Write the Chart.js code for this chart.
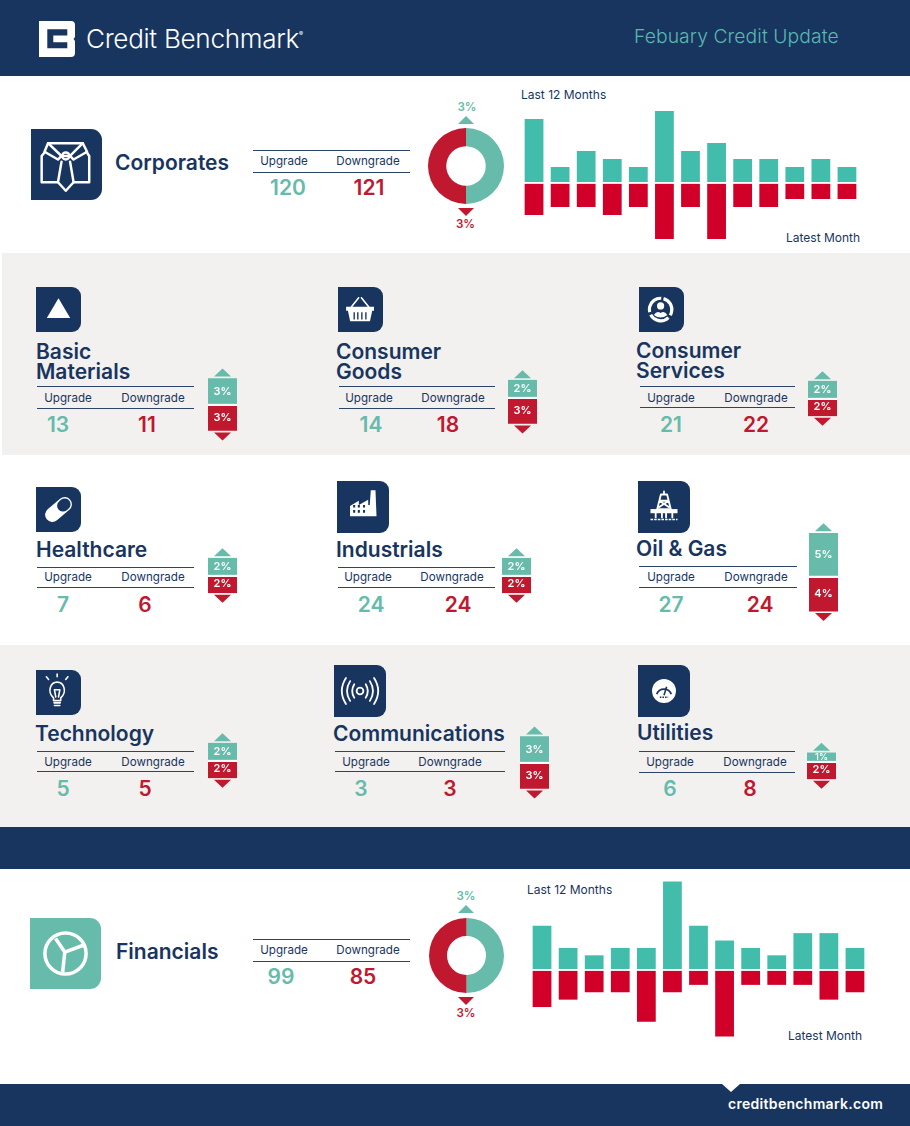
<!DOCTYPE html>
<html>
<head>
<meta charset="utf-8">
<title>Credit Benchmark - Febuary Credit Update</title>
<script src="https://cdn.jsdelivr.net/npm/chart.js@4"></script>
<style>
  html, body { margin: 0; padding: 0; background: #fff; }
  #page { position: relative; width: 910px; height: 1126px; overflow: hidden; font-family: Inter, sans-serif; color: #18355f; }
  #page > * { position: absolute; }
  .t { white-space: nowrap; line-height: 1; }
  .title { font-size: 21px; font-weight: 600; line-height: 20px; white-space: pre; }
  .lbl { font-size: 11.6px; font-weight: 400; transform: translate(-50%, -50%); }
  .num { font-size: 21px; font-weight: 600; transform: translate(-50%, -50%); }
  .rule { height: 1px; background: #2b4468; }
  .note { font-size: 12px; }
  .icon { background: #18355f; border-radius: 0 9px 9px 0; }
  .icon svg { display: block; width: 100%; height: 100%; }
  canvas { display: block; }
  sup { font-size: 6px; line-height: 0; vertical-align: 12px; font-weight: 400; }
</style>
</head>
<body>
<div id="page"></div>
<script>
// months are only numbered in the source, oldest first
const months = ["1", "2", "3", "4", "5", "6", "7", "8", "9", "10", "11", "12", "13"];

const corporatesUp = [8, 2, 4, 3, 2, 9, 4, 5, 3, 3, 2, 3, 2];
const corporatesDown = [4, 3, 3, 4, 3, 7, 3, 7, 3, 3, 2, 2, 2];
const financialsUp = [6, 3, 2, 3, 3, 12, 6, 4, 3, 2, 5, 5, 3];
const financialsDown = [5, 4, 3, 3, 7, 3, 2, 9, 2, 2, 2, 4, 3];

const corporatesShare = [3, 3];
const financialsShare = [3, 3];
const corporatesCounts = [120, 121];
const financialsCounts = [99, 85];

const sectorNames = ["Basic\nMaterials", "Consumer\nGoods", "Consumer\nServices",
  "Healthcare", "Industrials", "Oil & Gas",
  "Technology", "Communications", "Utilities"];
const sectorUpgrades = [13, 14, 21, 7, 24, 27, 5, 3, 6];
const sectorDowngrades = [11, 18, 22, 6, 24, 24, 5, 3, 8];
const sectorUpPct = [3, 2, 2, 2, 2, 5, 2, 3, 1];
const sectorDownPct = [3, 3, 2, 2, 2, 4, 2, 3, 2];

const NAVY = "#18355f", TEAL = "#66bbaa", RED = "#c0182f", BAR_TEAL = "#43bdab", BAR_RED = "#d00029", GRAY = "#f3f1ef";

// where each sector block sits on the page (titleY is the middle of the title block)
const sectorLayout = [
  { icon: [36, 287, 45], titleX: 36, titleY: 361.5, rules: [386, 408], ruleX: [37, 194], lbl: [68, 153], lblY: 399, num: [58, 147], numY: 424, barX: 208, base: 404.3, art: "triangle" },
  { icon: [338, 287, 45], titleX: 336, titleY: 361.5, rules: [386, 408], ruleX: [339, 495], lbl: [369, 453], lblY: 399, num: [371, 448], numY: 424, barX: 508, base: 397, art: "basket" },
  { icon: [639, 287, 45], titleX: 636, titleY: 360.5, rules: [386, 407], ruleX: [640, 795], lbl: [671, 756], lblY: 399, num: [671, 756], numY: 424, barX: 808, base: 398.5, art: "ring" },
  { icon: [36, 487, 45], titleX: 36, titleY: 549.5, rules: [567, 587], ruleX: [37, 194], lbl: [68, 153], lblY: 578, num: [63, 145], numY: 604, barX: 208, base: 575.5, art: "pill" },
  { icon: [337, 481, 52], titleX: 336, titleY: 549.5, rules: [567, 587], ruleX: [338, 495], lbl: [368, 452], lblY: 578, num: [371, 458], numY: 604, barX: 502, base: 575.5, art: "factory" },
  { icon: [638, 481, 52], titleX: 636, titleY: 548.5, rules: [566, 587], ruleX: [639, 797], lbl: [671, 756], lblY: 578, num: [671, 760], numY: 604, barX: 809, base: 576, art: "rig" },
  { icon: [36, 670, 45], titleX: 35, titleY: 733.5, rules: [751, 771], ruleX: [37, 194], lbl: [68, 153], lblY: 763, num: [63, 145], numY: 788, barX: 208, base: 760.5, art: "bulb" },
  { icon: [334, 665, 52], titleX: 333, titleY: 733.5, rules: [751, 771], ruleX: [335, 505], lbl: [366, 450], lblY: 763, num: [361, 450], numY: 788, barX: 520, base: 762.5, art: "waves" },
  { icon: [638, 665, 52], titleX: 637, titleY: 732.5, rules: [751, 772], ruleX: [639, 795], lbl: [670, 755], lblY: 763, num: [670, 750], numY: 788, barX: 807, base: 761.5, art: "gauge" }
];

const W = 'fill="none" stroke="#fff" stroke-width="3.5" stroke-linejoin="round" stroke-linecap="round"';
const iconArt = {
  shirt: `<g ${W} stroke-width="3.2"><path d="M24 20 H73 L79 32 L60 43 L55 38 H43 L38 43 L19 32 Z"/><path d="M24 20 L43 38 M73 20 L55 38"/><circle cx="49" cy="38" r="5"/><path d="M20 32 L15 38 V75 H38 M78 32 L82 38 V75 H60"/><path d="M43 46 L38 75 L49 87 L60 75 L55 46"/></g>`,
  triangle: `<path d="M50 25 L76 69 H24 Z" fill="#fff"/>`,
  basket: `<path d="M18 44 H80 V53 H76 L71 76 H27 L22 53 H18 Z" fill="#fff"/><path d="M36 56 V72 M44 56 V72 M53 56 V72 M62 56 V72" stroke="#18355f" stroke-width="3"/><g ${W} stroke-width="4.5"><path d="M30 44 L46 24 M68 44 L52 24"/></g>`,
  ring: `<circle cx="48" cy="50" r="25" fill="none" stroke="#fff" stroke-width="7" stroke-dasharray="46 6.4" transform="rotate(-75 48 50)"/><circle cx="48" cy="42" r="8" fill="#fff"/><path d="M33 62 Q40 52 48 58 Q56 52 63 62 Q48 74 33 62 Z" fill="#fff"/>`,
  pill: `<g transform="rotate(-40 50 50)"><rect x="16" y="34" width="68" height="32" rx="16" fill="#fff"/><rect x="50" y="37" width="31" height="26" rx="13" fill="#18355f"/></g>`,
  factory: `<path d="M25 68 V48 L42 38 V46 L60 36 V46 H63 L65 18 H74 L76 68 Z" fill="#fff"/><path d="M31 46 h4 v5 h-4z M40 46 h4 v5 h-4z M50 46 h4 v5 h-4z M31 56 h4 v5 h-4z M40 56 h4 v5 h-4z M50 56 h4 v5 h-4z" fill="#18355f"/>`,
  rig: `<g ${W} stroke-width="2.8"><path d="M50 20 V26 M44 26 H56 L63 54 H37 Z M41 38 L59 50 M59 38 L41 50 M42 38 H58"/><path d="M34 62 V70 M66 62 V70 M46 62 V70 M54 62 V70"/></g><path d="M24 54 H76 V62 H24 Z" fill="#fff"/><path d="M24 74 H76" stroke="#fff" stroke-width="2.5" stroke-dasharray="5 2"/>`,
  bulb: `<g ${W} stroke-width="3.4"><path d="M39 62 C24 48 32 27 47 27 C62 27 70 48 55 62 V68 H39 Z"/><path d="M41 44 H53 L50 60 M44 60 L41 44"/><path d="M40 73 H54 M41 79 H53"/><path d="M47 9 V15 M23 15 L28 21 M71 15 L66 21"/></g>`,
  waves: `<g ${W} stroke-width="2.4"><circle cx="50" cy="50" r="6.5"/><path d="M39 37 Q31 50 39 63 M61 37 Q69 50 61 63 M31 31 Q19 50 31 69 M69 31 Q81 50 69 69 M23 25 Q7 50 23 75 M77 25 Q93 50 77 75"/></g>`,
  gauge: `<circle cx="50" cy="50" r="23" fill="#fff"/><g fill="none" stroke="#18355f" stroke-width="3.5"><path d="M36 56 A15 15 0 0 1 64 56"/><path d="M50 58 L55 42" stroke-width="3"/></g><path d="M42 62 H58" stroke="#18355f" stroke-width="3" stroke-dasharray="3 2"/>`,
  pie: `<circle cx="50" cy="50" r="29" fill="none" stroke="#fff" stroke-width="5"/><path d="M49 48 L36 29 M49 48 L76 38 M49 48 L46 76" stroke="#fff" stroke-width="5"/>`
};

const page = document.getElementById("page");

function box(left, top, w, h, bg) {
  const d = document.createElement("div");
  d.style.cssText = `left:${left}px;top:${top}px;width:${w}px;height:${h}px;background:${bg}`;
  page.appendChild(d);
  return d;
}
function text(str, cls, x, y, color) {
  const d = document.createElement("div");
  d.className = "t " + cls;
  d.textContent = str;
  d.style.left = x + "px";
  d.style.top = y + "px";
  if (color) d.style.color = color;
  page.appendChild(d);
  return d;
}
function title(str, x, y) {
  const d = text(str, "title", x, y);
  d.style.transform = "translateY(-50%)";
  return d;
}
function rule(x0, x1, y) {
  const d = document.createElement("div");
  d.className = "rule";
  d.style.cssText = `left:${x0}px;top:${y}px;width:${x1 - x0}px`;
  page.appendChild(d);
}
function icon(left, top, size, art, bg) {
  const d = document.createElement("div");
  d.className = "icon";
  const radius = size > 60 ? "border-radius:0 11px 11px 0;" : "";
  d.style.cssText = `${radius}left:${left}px;top:${top}px;width:${size}px;height:${size}px` + (bg ? `;background:${bg}` : "");
  d.innerHTML = `<svg viewBox="0 0 100 100">${iconArt[art]}</svg>`;
  page.appendChild(d);
}
function canvas(left, top, w, h) {
  const c = document.createElement("canvas");
  c.width = w;
  c.height = h;
  c.style.cssText = `left:${left}px;top:${top}px;width:${w}px;height:${h}px`;
  page.appendChild(c);
  return c;
}
function triangle(cx, y, w, h, up, color) {
  const d = document.createElement("div");
  const pts = up ? `${w / 2},0 ${w},${h} 0,${h}` : `0,0 ${w},0 ${w / 2},${h}`;
  d.style.cssText = `left:${cx - w / 2}px;top:${y}px;width:${w}px;height:${h}px`;
  d.innerHTML = `<svg width="${w}" height="${h}" style="display:block"><polygon points="${pts}" fill="${color}"/></svg>`;
  page.appendChild(d);
}

// bands
box(0, 0, 910, 76, NAVY);
box(2, 253, 908, 202, GRAY);
box(0, 645, 910, 182, GRAY);
box(0, 827, 910, 42, NAVY);
box(0, 1084, 910, 42, NAVY);
triangle(731, 1084, 18, 8, false, "#fff");

// header
const logo = document.createElement("div");
logo.style.cssText = "left:39px;top:21px;width:36px;height:36px";
logo.innerHTML = `<svg viewBox="0 0 36 36" width="36" height="36" style="display:block"><path d="M0 0 H32 Q36 0 36 4 V16 L34.5 18 L36 20 V32 Q36 36 32 36 H0 Z" fill="#fff"/><path d="M8.3 8.3 H28.3 V14.6 H14.3 V21.3 H28.3 V27.3 H8.3 Z" fill="#18355f"/></svg>`;
page.appendChild(logo);
const brand = text("", "", 86, 25, "#fff");
brand.innerHTML = "Credit Benchmark<sup>®</sup>";
brand.style.cssText += ";font-size:26.1px;font-weight:300;letter-spacing:-0.3px;line-height:28px";
text("Febuary Credit Update", "", 634, 25, "#5bb8b0").style.cssText += ";font-size:19.3px;font-weight:300;letter-spacing:0.1px;line-height:22px";

// footer
text("creditbenchmark.com", "", 728, 1097, "#fff").style.cssText += ";font-size:14px;font-weight:600;letter-spacing:0.3px";

function trendChart(cv, up, down, yMin, yMax) {
  return new Chart(cv, {
    type: "bar",
    data: {
      labels: months,
      datasets: [
        { label: "Upgrade", data: up, backgroundColor: BAR_TEAL, stack: "s" },
        { label: "Downgrade", data: down.map(v => -v), backgroundColor: BAR_RED, stack: "s" }
      ]
    },
    options: {
      responsive: false,
      animation: false,
      layout: { padding: 0 },
      barPercentage: 0.72,
      categoryPercentage: 1,
      plugins: { legend: { display: false }, tooltip: { enabled: false } },
      scales: {
        x: { display: false, stacked: true },
        y: {
          stacked: true, min: yMin, max: yMax,
          ticks: { display: false, stepSize: 1 },
          border: { display: false },
          grid: { z: 1, drawTicks: false, lineWidth: 1.4, color: c => c.tick.value === 0 ? "#fff" : "rgba(0,0,0,0)" }
        }
      }
    }
  });
}

function shareDonut(cv, share) {
  return new Chart(cv, {
    type: "doughnut",
    data: { labels: ["Upgrade", "Downgrade"], datasets: [{ data: share, backgroundColor: [TEAL, RED], borderWidth: 0 }] },
    options: {
      responsive: false,
      animation: false,
      cutout: "52%",
      layout: { padding: 0 },
      plugins: { legend: { display: false }, tooltip: { enabled: false } }
    }
  });
}

// arrows and % labels of the small sector bars, placed from the scale
const miniMarks = {
  id: "miniMarks",
  afterDatasetsDraw(chart) {
    const { ctx, scales: { x, y } } = chart;
    const up = chart.data.datasets[0].data[0];
    const down = -chart.data.datasets[1].data[0];
    const cx = x.getPixelForValue(0);
    const top = y.getPixelForValue(up), zero = y.getPixelForValue(0), bot = y.getPixelForValue(-down);
    ctx.save();
    ctx.fillStyle = TEAL;
    ctx.beginPath();
    ctx.moveTo(cx, top - 10); ctx.lineTo(cx + 8.5, top - 2); ctx.lineTo(cx - 8.5, top - 2);
    ctx.fill();
    ctx.fillStyle = RED;
    ctx.beginPath();
    ctx.moveTo(cx, bot + 10); ctx.lineTo(cx + 8.5, bot + 2); ctx.lineTo(cx - 8.5, bot + 2);
    ctx.fill();
    ctx.fillStyle = "#fff";
    ctx.textAlign = "center";
    ctx.textBaseline = "middle";
    ctx.font = (up < 2 ? "600 9px" : "600 11px") + " Inter, sans-serif";
    ctx.fillText(up + "%", cx, (top + zero) / 2);
    ctx.font = (down < 2 ? "600 9px" : "600 11px") + " Inter, sans-serif";
    ctx.fillText(down + "%", cx, (bot + zero) / 2);
    ctx.restore();
  }
};

function miniChart(cv, up, down) {
  return new Chart(cv, {
    type: "bar",
    data: {
      labels: ["Latest"],
      datasets: [
        { label: "Upgrade", data: [up], backgroundColor: TEAL, stack: "s" },
        { label: "Downgrade", data: [-down], backgroundColor: RED, stack: "s" }
      ]
    },
    options: {
      responsive: false,
      animation: false,
      layout: { padding: 0 },
      barPercentage: 1,
      categoryPercentage: 1,
      plugins: { legend: { display: false }, tooltip: { enabled: false } },
      scales: {
        x: { display: false, stacked: true },
        y: {
          stacked: true, min: -7, max: 7,
          ticks: { display: false, stepSize: 1 },
          border: { display: false },
          grid: { z: 1, drawTicks: false, lineWidth: 2, color: c => c.tick.value === 0 ? "#fff" : "rgba(0,0,0,0)" }
        }
      }
    },
    plugins: [miniMarks]
  });
}

function countRow(rules, ruleX, lbl, lblY, num, numY, counts) {
  rule(ruleX[0], ruleX[1], rules[0]);
  rule(ruleX[0], ruleX[1], rules[1]);
  text("Upgrade", "lbl", lbl[0], lblY);
  text("Downgrade", "lbl", lbl[1], lblY);
  text(String(counts[0]), "num", num[0], numY, TEAL);
  text(String(counts[1]), "num", num[1], numY, RED);
}

// Corporates row
icon(31, 129, 71, "shirt");
title("Corporates", 115, 163);
countRow([150, 172], [253, 410], [284, 368], 161.5, [288, 369], 187, corporatesCounts);
shareDonut(canvas(428, 128, 76, 76), corporatesShare);
triangle(465.5, 116, 16, 8, true, TEAL);
triangle(465.5, 208, 16, 8, false, RED);
text(corporatesShare[0] + "%", "lbl", 467, 107.5, TEAL).style.fontWeight = 600;
text(corporatesShare[1] + "%", "lbl", 465.5, 225, RED).style.fontWeight = 600;
text("Last 12 Months", "note", 521, 89);
text("Latest Month", "note", 786, 232);
trendChart(canvas(521, 103, 339, 144), corporatesUp, corporatesDown, -8, 10);

// Financials row
icon(30, 918, 71, "pie", TEAL);
title("Financials", 116, 952);
countRow([939, 961], [253, 410], [284, 368], 950.5, [281, 363], 976, financialsCounts);
shareDonut(canvas(429, 918, 75, 75), financialsShare);
triangle(466, 905, 16, 8, true, TEAL);
triangle(466, 997, 16, 8, false, RED);
text(financialsShare[0] + "%", "lbl", 466, 896.5, TEAL).style.fontWeight = 600;
text(financialsShare[1] + "%", "lbl", 466, 1013.5, RED).style.fontWeight = 600;
text("Last 12 Months", "note", 527, 884);
text("Latest Month", "note", 788, 1030);
trendChart(canvas(529, 874, 339, 170), financialsUp, financialsDown, -10, 13);

// sector blocks
sectorNames.forEach((name, i) => {
  const s = sectorLayout[i];
  icon(s.icon[0], s.icon[1], s.icon[2], s.art);
  title(name, s.titleX, s.titleY);
  countRow(s.rules, s.ruleX, s.lbl, s.lblY, s.num, s.numY, [sectorUpgrades[i], sectorDowngrades[i]]);
  miniChart(canvas(s.barX, Math.round(s.base - 60.5), 29, 121), sectorUpPct[i], sectorDownPct[i]);
});
</script>
</body>
</html>
